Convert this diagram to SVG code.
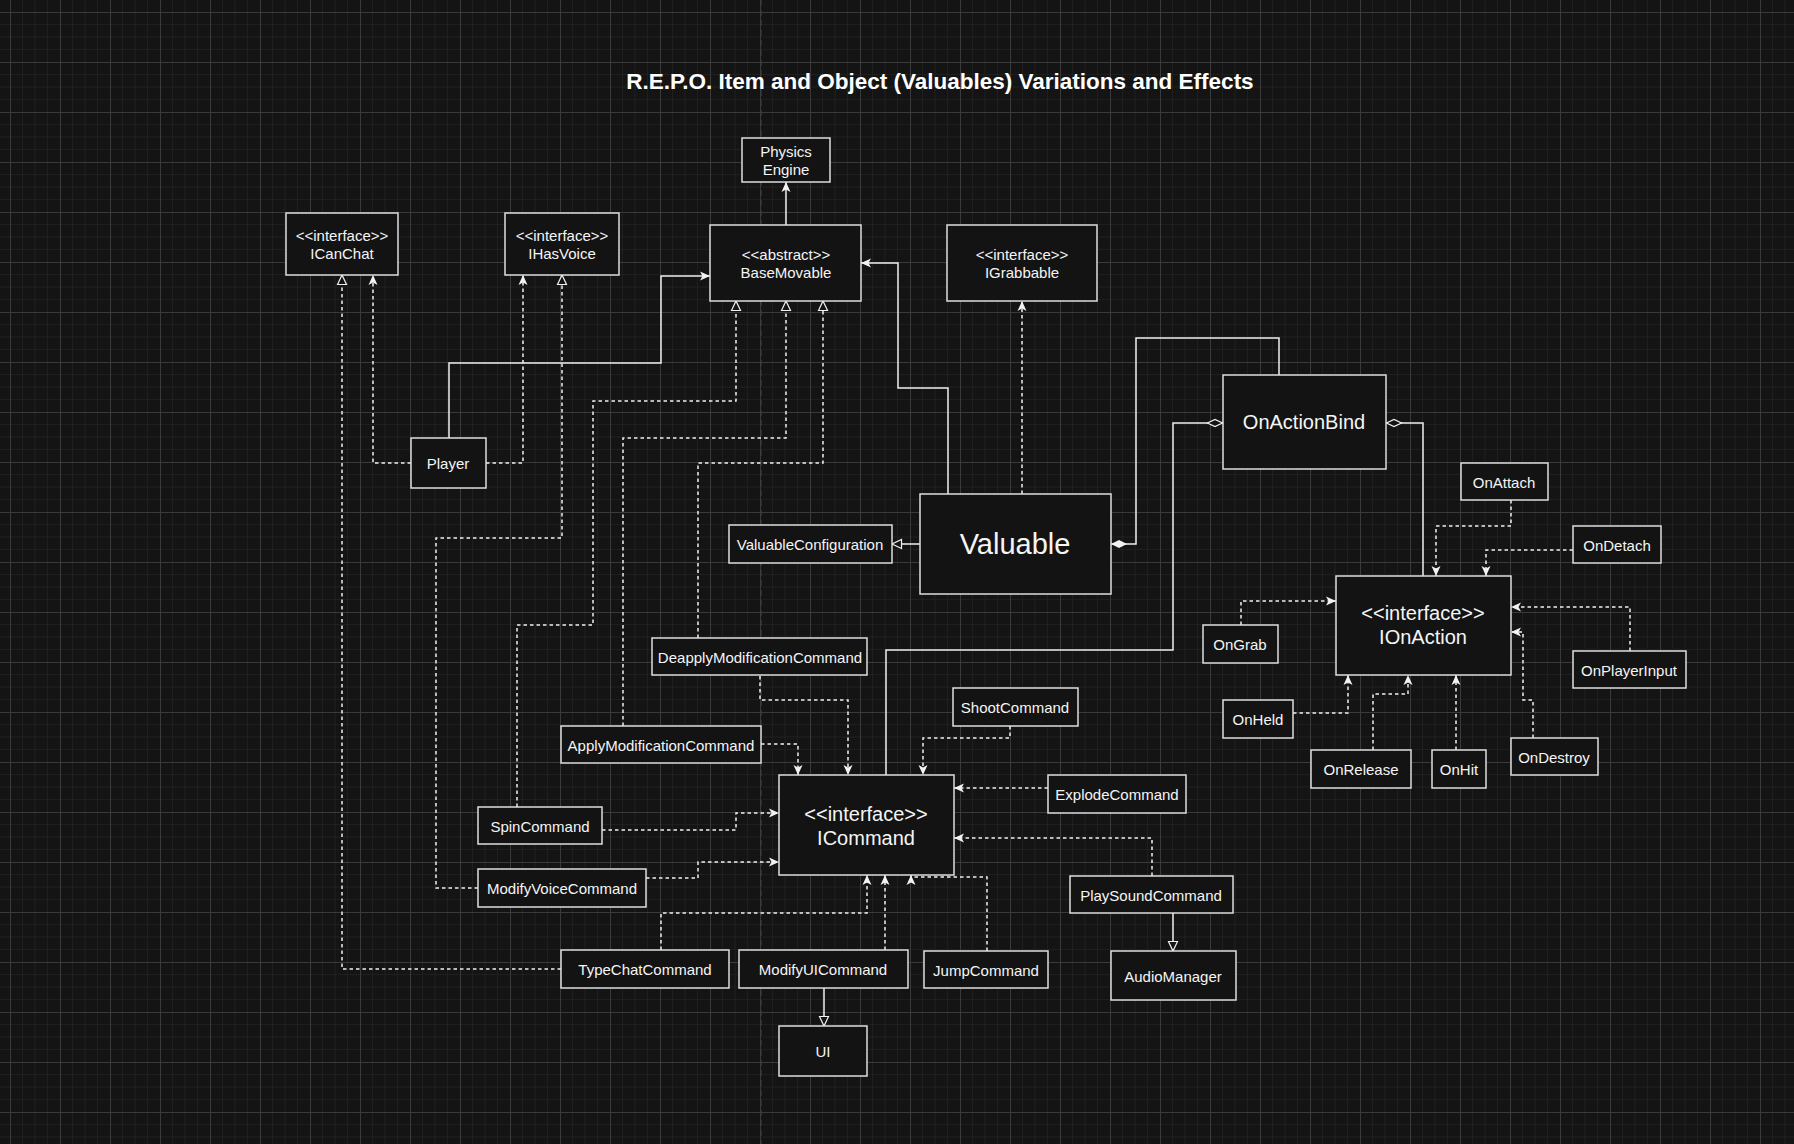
<svg xmlns="http://www.w3.org/2000/svg" width="1794" height="1144" viewBox="0 0 1794 1144">
<defs>
<pattern id="grid" x="10" y="12" width="50" height="50" patternUnits="userSpaceOnUse">
<rect width="50" height="50" fill="#141414"/>
<path d="M12.5,0V50M25,0V50M37.5,0V50M0,12.5H50M0,25H50M0,37.5H50" stroke="#1f1f1f" stroke-width="1"/>
<path d="M0.5,0V50M0,0.5H50" stroke="#3a3a3a" stroke-width="1"/>
</pattern>
<marker id="arr" markerUnits="userSpaceOnUse" markerWidth="12" markerHeight="10" refX="10" refY="4.5" orient="auto" overflow="visible">
<path d="M0,0 L10,4.5 L0,9 L2.5,4.5 z" fill="#f2f2f2"/>
</marker>
<marker id="tri" markerUnits="userSpaceOnUse" markerWidth="12" markerHeight="12" refX="10" refY="5" orient="auto" overflow="visible">
<path d="M0.5,0.5 L10,5 L0.5,9.5 z" fill="#141414" stroke="#f2f2f2" stroke-width="1.2"/>
</marker>
<marker id="dfill" markerUnits="userSpaceOnUse" markerWidth="18" markerHeight="10" refX="0" refY="4" orient="auto" overflow="visible">
<path d="M0,4 L8,0 L16,4 L8,8 z" fill="#f2f2f2"/>
</marker>
<marker id="dhollow" markerUnits="userSpaceOnUse" markerWidth="18" markerHeight="10" refX="0" refY="4" orient="auto" overflow="visible">
<path d="M0.5,4 L8,0.5 L15.5,4 L8,7.5 z" fill="#141414" stroke="#f2f2f2" stroke-width="1.2"/>
</marker>
</defs>
<style>
.node rect{fill:#131313;stroke:#dedede;stroke-width:1.5}
.node text{fill:#f5f5f5;font-family:"Liberation Sans",Arial,sans-serif;font-size:15px;text-anchor:middle;dominant-baseline:central}
.node text.big{font-size:20px}
.node text.huge{font-size:29px}
.c path{fill:none;stroke:#f0f0f0;stroke-width:1.5}
.c path.d{stroke-dasharray:3.5 3}
.title{fill:#ffffff;font-family:"Liberation Sans",Arial,sans-serif;font-size:22.5px;font-weight:bold;text-anchor:middle}
</style>
<rect width="1794" height="1144" fill="url(#grid)"/>
<path d="M761,0V1144" stroke="#3c3c3c" stroke-width="1.2" stroke-dasharray="6 4"/>
<text class="title" x="940" y="89">R.E.P.O. Item and Object (Valuables) Variations and Effects</text>

<g class="c" id="connectors">
<path d="M786,225V182" marker-end="url(#arr)"/>
<path d="M449,438V363H661V276H710" marker-end="url(#arr)"/>
<path class="d" d="M411,463H373V275" marker-end="url(#arr)"/>
<path class="d" d="M486,463H523V275" marker-end="url(#arr)"/>
<path d="M948,494V388H898V263H861" marker-end="url(#arr)"/>
<path class="d" d="M1022,494V301" marker-end="url(#arr)"/>
<path d="M920,544H892" marker-end="url(#tri)"/>
<path d="M1111,544H1136V338H1279V375" marker-start="url(#dfill)"/>
<path d="M1223,423H1173V650H886V775" marker-start="url(#dhollow)"/>
<path d="M1386,423H1423V576" marker-start="url(#dhollow)"/>
<path class="d" d="M517,807V625H593V401H736V301" marker-end="url(#tri)"/>
<path class="d" d="M623,726V438H786V301" marker-end="url(#tri)"/>
<path class="d" d="M698,638V463H823V301" marker-end="url(#tri)"/>
<path class="d" d="M478,888H436V538H562V275" marker-end="url(#tri)"/>
<path class="d" d="M561,969H342V275" marker-end="url(#tri)"/>
<path class="d" d="M760,676V700H848V775" marker-end="url(#arr)"/>
<path class="d" d="M761,744H798V775" marker-end="url(#arr)"/>
<path class="d" d="M1010,726V738H923V775" marker-end="url(#arr)"/>
<path class="d" d="M602,830H736V813H779" marker-end="url(#arr)"/>
<path class="d" d="M646,878H698V862H779" marker-end="url(#arr)"/>
<path class="d" d="M1048,788H954" marker-end="url(#arr)"/>
<path class="d" d="M1152,876V838H954" marker-end="url(#arr)"/>
<path class="d" d="M661,950V913H867V875" marker-end="url(#arr)"/>
<path class="d" d="M885,950V875" marker-end="url(#arr)"/>
<path class="d" d="M987,951V877H911V875" marker-end="url(#arr)"/>
<path d="M824,988V1026" marker-end="url(#tri)"/>
<path d="M1173,913V951" marker-end="url(#tri)"/>
<path class="d" d="M1511,500V526H1436V576" marker-end="url(#arr)"/>
<path class="d" d="M1573,550H1486V576" marker-end="url(#arr)"/>
<path class="d" d="M1241,625V601H1336" marker-end="url(#arr)"/>
<path class="d" d="M1630,651V607H1511" marker-end="url(#arr)"/>
<path class="d" d="M1293,713H1348V675" marker-end="url(#arr)"/>
<path class="d" d="M1373,750V694H1408V675" marker-end="url(#arr)"/>
<path class="d" d="M1456,750V675" marker-end="url(#arr)"/>
<path class="d" d="M1533,738V700H1523V632H1511" marker-end="url(#arr)"/>
</g>

<g class="node" id="physics"><rect x="742" y="138" width="88" height="44"/><text x="786" y="151">Physics</text><text x="786" y="169">Engine</text></g>
<g class="node" id="icanchat"><rect x="286" y="213" width="112" height="62"/><text x="342" y="235">&lt;&lt;interface&gt;&gt;</text><text x="342" y="253">ICanChat</text></g>
<g class="node" id="ihasvoice"><rect x="505" y="213" width="114" height="62"/><text x="562" y="235">&lt;&lt;interface&gt;&gt;</text><text x="562" y="253">IHasVoice</text></g>
<g class="node" id="basemovable"><rect x="710" y="225" width="151" height="76"/><text x="786" y="254">&lt;&lt;abstract&gt;&gt;</text><text x="786" y="272">BaseMovable</text></g>
<g class="node" id="igrabbable"><rect x="947" y="225" width="150" height="76"/><text x="1022" y="254">&lt;&lt;interface&gt;&gt;</text><text x="1022" y="272">IGrabbable</text></g>
<g class="node" id="player"><rect x="411" y="438" width="75" height="50"/><text x="448" y="463">Player</text></g>
<g class="node" id="valuable"><rect x="920" y="494" width="191" height="100"/><text class="huge" x="1015" y="544">Valuable</text></g>
<g class="node" id="valuableconfig"><rect x="729" y="525" width="163" height="38"/><text x="810" y="544">ValuableConfiguration</text></g>
<g class="node" id="onactionbind"><rect x="1223" y="375" width="163" height="94"/><text class="big" x="1304" y="422">OnActionBind</text></g>
<g class="node" id="onattach"><rect x="1461" y="463" width="87" height="37"/><text x="1504" y="482">OnAttach</text></g>
<g class="node" id="ondetach"><rect x="1573" y="526" width="88" height="37"/><text x="1617" y="545">OnDetach</text></g>
<g class="node" id="ionaction"><rect x="1336" y="576" width="175" height="99"/><text class="big" x="1423" y="613">&lt;&lt;interface&gt;&gt;</text><text class="big" x="1423" y="637">IOnAction</text></g>
<g class="node" id="ongrab"><rect x="1203" y="625" width="75" height="38"/><text x="1240" y="644">OnGrab</text></g>
<g class="node" id="onplayerinput"><rect x="1573" y="651" width="113" height="37"/><text x="1629" y="670">OnPlayerInput</text></g>
<g class="node" id="onheld"><rect x="1223" y="700" width="70" height="38"/><text x="1258" y="719">OnHeld</text></g>
<g class="node" id="onrelease"><rect x="1311" y="750" width="100" height="38"/><text x="1361" y="769">OnRelease</text></g>
<g class="node" id="onhit"><rect x="1432" y="750" width="54" height="38"/><text x="1459" y="769">OnHit</text></g>
<g class="node" id="ondestroy"><rect x="1511" y="738" width="87" height="37"/><text x="1554" y="757">OnDestroy</text></g>
<g class="node" id="deapply"><rect x="652" y="638" width="215" height="37"/><text x="760" y="657">DeapplyModificationCommand</text></g>
<g class="node" id="apply"><rect x="561" y="726" width="200" height="37"/><text x="661" y="745">ApplyModificationCommand</text></g>
<g class="node" id="spin"><rect x="478" y="807" width="124" height="37"/><text x="540" y="826">SpinCommand</text></g>
<g class="node" id="modifyvoice"><rect x="478" y="869" width="168" height="38"/><text x="562" y="888">ModifyVoiceCommand</text></g>
<g class="node" id="icommand"><rect x="779" y="775" width="175" height="100"/><text class="big" x="866" y="814">&lt;&lt;interface&gt;&gt;</text><text class="big" x="866" y="838">ICommand</text></g>
<g class="node" id="shoot"><rect x="953" y="688" width="125" height="38"/><text x="1015" y="707">ShootCommand</text></g>
<g class="node" id="explode"><rect x="1048" y="775" width="138" height="38"/><text x="1117" y="794">ExplodeCommand</text></g>
<g class="node" id="playsound"><rect x="1070" y="876" width="163" height="37"/><text x="1151" y="895">PlaySoundCommand</text></g>
<g class="node" id="audiomanager"><rect x="1111" y="951" width="125" height="49"/><text x="1173" y="976">AudioManager</text></g>
<g class="node" id="typechat"><rect x="561" y="950" width="168" height="38"/><text x="645" y="969">TypeChatCommand</text></g>
<g class="node" id="modifyui"><rect x="739" y="950" width="169" height="38"/><text x="823" y="969">ModifyUICommand</text></g>
<g class="node" id="jump"><rect x="924" y="951" width="124" height="37"/><text x="986" y="970">JumpCommand</text></g>
<g class="node" id="ui"><rect x="779" y="1026" width="88" height="50"/><text x="823" y="1051">UI</text></g>
</svg>
